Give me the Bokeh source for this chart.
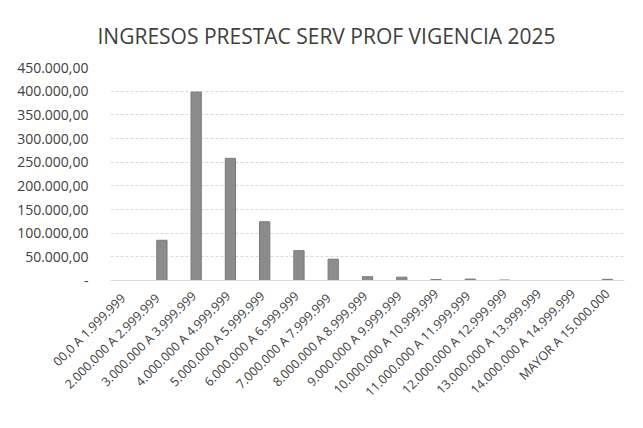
from bokeh.plotting import figure
from bokeh.models import FixedTicker, Range1d
from bokeh.embed import file_html
from bokeh.resources import INLINE
import math

categories = [
    "00,0  A  1.999.999",
    "2.000.000  A  2.999.999",
    "3.000.000 A  3.999.999",
    "4.000.000 A  4.999.999",
    "5.000.000 A  5.999.999",
    "6.000.000 A  6.999.999",
    "7.000.000  A  7.999.999",
    "8.000.000 A  8.999.999",
    "9.000.000 A  9.999.999",
    "10.000.000 A 10.999.999",
    "11.000.000  A 11.999.999",
    "12.000.000 A 12.999.999",
    "13.000.000 A 13.999.999",
    "14.000.000 A 14.999.999",
    "MAYOR A 15.000.000",
]
values = [0, 85000, 398000, 258000, 124000, 63000, 45000, 8000, 7000, 2000, 3000, 1000, 0, 0, 2500]
y_ticks = [0, 50000, 100000, 150000, 200000, 250000, 300000, 350000, 400000, 450000]
y_tick_labels = ["-", "50.000,00", "100.000,00", "150.000,00", "200.000,00",
                 "250.000,00", "300.000,00", "350.000,00", "400.000,00", "450.000,00"]

p = figure(x_range=categories, width=627, height=412,
           output_backend="svg", toolbar_location=None,
           title="INGRESOS PRESTAC SERV PROF VIGENCIA 2025")
p.y_range = Range1d(0, 450000)

p.vbar(x=categories, top=values, width=0.3, fill_color="#8c8c8c", line_color="#7a7a7a")

p.title.align = "left"
p.title.offset = -13
p.title.text_font = "Open Sans"
p.title.text_font_size = "21px"
p.title.text_font_style = "normal"
p.title.text_color = "#404040"
p.title.standoff = 35

p.yaxis.ticker = FixedTicker(ticks=y_ticks)
p.yaxis.major_label_overrides = {t: l for t, l in zip(y_ticks, y_tick_labels)}
p.yaxis.axis_line_color = None
p.yaxis.major_tick_line_color = None
p.yaxis.minor_tick_line_color = None
p.yaxis.major_label_text_font = "Open Sans"
p.yaxis.major_label_text_font_size = "14px"
p.yaxis.major_label_text_color = "#404040"
p.yaxis.major_label_standoff = 16

p.xaxis.major_label_orientation = math.pi / 4
p.xaxis.axis_line_color = "#d9d9d9"
p.xaxis.major_tick_line_color = None
p.xaxis.major_label_text_font = "Open Sans"
p.xaxis.major_label_text_font_size = "12.5px"
p.xaxis.major_label_text_color = "#404040"
p.xaxis.major_label_standoff = 5

p.xgrid.grid_line_color = None
p.ygrid.grid_line_color = "#d9d9d9"
p.ygrid.grid_line_dash = "3 2"

p.outline_line_color = None
p.background_fill_color = "white"
p.border_fill_color = "white"
p.min_border_left = 110
p.min_border_right = 3
p.min_border_top = 67
p.min_border_bottom = 132

open("out.html", "w").write(file_html(p, INLINE))
